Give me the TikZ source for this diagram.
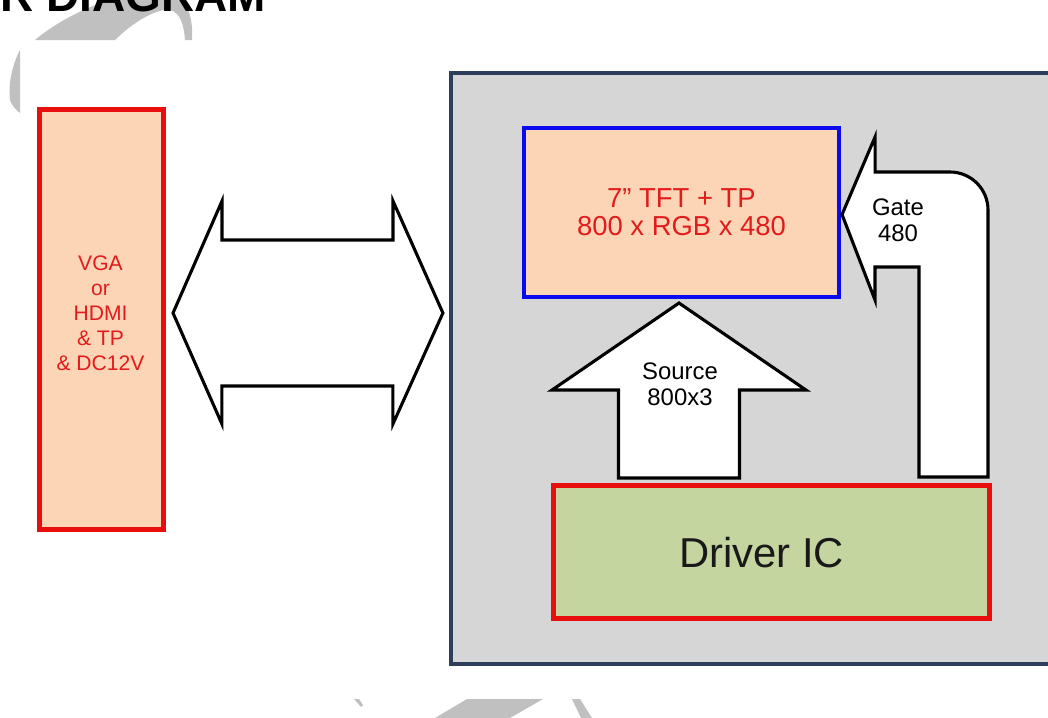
\documentclass[tikz,border=0pt]{standalone}
\usepackage{fontspec}
\setmainfont{Liberation Sans}
\definecolor{PanelPeach} {RGB}{251,213,181}
\definecolor{BoxRed}     {RGB}{232,14,14}
\definecolor{LabelRed}   {RGB}{226,28,28}
\definecolor{PanelBlue}  {RGB}{10,10,240}
\definecolor{FrameNavy}  {RGB}{44,62,92}
\definecolor{FrameGray}  {RGB}{214,214,214}
\definecolor{DriverGreen}{RGB}{196,213,159}
\definecolor{MarkGray}   {RGB}{192,192,192}
\usetikzlibrary{calc}

\begin{document}
\begin{tikzpicture}[x=0.025cm,y=-0.025cm,
  panel/.style={draw=BoxRed,fill=PanelPeach,line width=3.6pt,
                inner sep=0pt,outer sep=0pt,align=center,text=LabelRed},
  housing/.style={draw=FrameNavy,fill=FrameGray,line width=2.85pt,
                  inner sep=0pt,outer sep=0pt},
  bigarrow/.style={draw=black,fill=white,line width=2.2pt},
  arrowtext/.style={align=center,inner sep=0pt,
                    font=\fontsize{17}{18.5}\selectfont}]
  \useasboundingbox (0,0) rectangle (1048,718);
  \clip (0,0) rectangle (1048,718);

  % watermark pieces round the sheet
  \fill[MarkGray] (35,40) .. controls (70,10) and (150,-25) .. (185,5)
    .. controls (191,12) and (193,28) .. (192,40) -- (185,40)
    .. controls (184,25) and (180,12) .. (170,10)
    .. controls (155,8) and (130,25) .. (115,40) -- cycle;
  \fill[MarkGray] (20,50) .. controls (12,65) and (8,85) .. (10,100)
    .. controls (12,106) and (16,110) .. (20,113) -- cycle;
  \fill[MarkGray] (354,699) -- (359,699) -- (363,705) -- (361,707) -- cycle;
  \fill[MarkGray] (467,699) -- (543,699) -- (510,718) -- (435,718) -- cycle;
  \fill[MarkGray] (572,699) -- (580,699) -- (592,718) -- (581,718) -- cycle;

  \node[anchor=base west,inner sep=0pt,
        font=\bfseries\fontsize{32.7}{38}\selectfont] (title) at (0,11) {R DIAGRAM};

  % host side
  \node[panel,minimum width=3.1cm,minimum height=10.5cm] (host) at (101.5,319.5) {};
  \node[align=center,text=LabelRed,inner sep=0pt,
        font=\fontsize{15}{17.8}\selectfont]
       (hostLabel) at ($(host.center)+(-1,-6)$) {VGA\\or\\HDMI\\\& TP\\\& DC12V};

  % module
  \node[housing,minimum width=15.35cm,minimum height=14.775cm] (module) at (758,368.5) {};
  \node[panel,draw=PanelBlue,line width=2.85pt,
        minimum width=7.875cm,minimum height=4.225cm,
        font=\fontsize{19.5}{20}\selectfont]
       (tft) at (681.5,212.5) {7” TFT + TP\\800 x RGB x 480};
  \node[panel,fill=DriverGreen,minimum width=10.9cm,minimum height=3.325cm] (drv) at (771.5,552) {};
  \node[text=black!90,inner sep=0pt,font=\fontsize{29.7}{34}\selectfont]
       (drvLabel) at ($(drv.center)+(-10,1)$) {Driver IC};

  % interface bus
  \coordinate (busL) at ($(host.east)+(9.5,-6.5)$);
  \coordinate (busR) at ($(module.west)+(-8,-55.5)$);
  \draw[bigarrow] (busL) -- ++(49,-112) -- ++(0,39) -- ++(171,0) -- ++(0,-39)
    -- (busR) -- ++(-50,111) -- ++(0,-38) -- ++(-171,0) -- ++(0,38) -- cycle;

  % source lines
  \coordinate (srcTip) at ($(tft.south)+(-2.5,6)$);
  \draw[bigarrow] (srcTip) -- ++(-127,87) -- ++(66.5,0) -- ++(0,88) -- ++(121,0)
    -- ++(0,-88) -- ++(66.5,0) -- cycle;
  \node[arrowtext] (srcLabel) at (680,384) {Source\\800x3};

  % gate lines
  \coordinate (gateTip) at ($(tft.east)+(3,2)$);
  \draw[bigarrow] (gateTip) -- ++(33,-77.5) -- ++(0,35) -- (950,172)
    .. controls (971,172) and (988,189) .. (988,210) -- (988,477)
    -- (919,477) -- (919,267) -- (875,267) -- (875,300) -- cycle;
  \node[arrowtext] (gateLabel) at (898,220) {Gate\\480};
\end{tikzpicture}
\end{document}
